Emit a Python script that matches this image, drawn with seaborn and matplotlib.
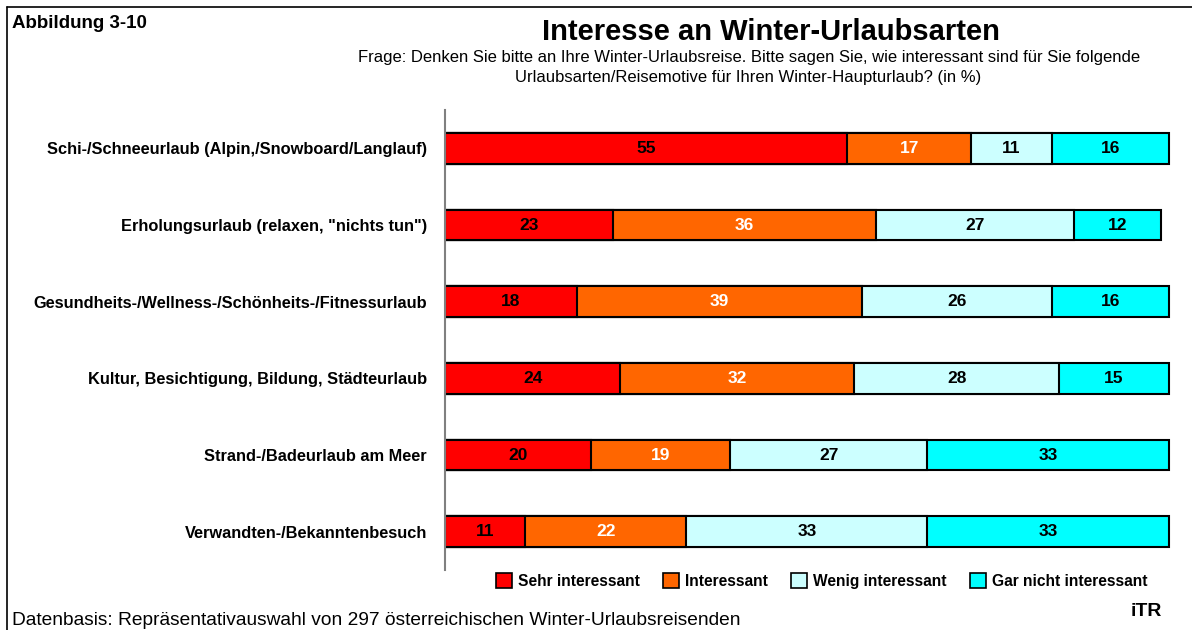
import matplotlib
matplotlib.use("Agg")
import matplotlib.pyplot as plt
from matplotlib.lines import Line2D
from matplotlib.patches import Patch
import numpy as np
import pandas as pd
import seaborn as sns

# Daten
kategorien = [
    "Schi-/Schneeurlaub (Alpin,/Snowboard/Langlauf)",
    "Erholungsurlaub (relaxen, \"nichts tun\")",
    "Gesundheits-/Wellness-/Schönheits-/Fitnessurlaub",
    "Kultur, Besichtigung, Bildung, Städteurlaub",
    "Strand-/Badeurlaub am Meer",
    "Verwandten-/Bekanntenbesuch",
]
sehr = [55, 23, 18, 24, 20, 11]
interessant = [17, 36, 39, 32, 19, 22]
wenig = [11, 27, 26, 28, 27, 33]
gar_nicht = [16, 12, 16, 15, 33, 33]

stufen = ["Sehr interessant", "Interessant", "Wenig interessant", "Gar nicht interessant"]
farben = ["#FF0000", "#FF6600", "#CCFFFF", "#00FFFF"]
textfarben = ["black", "white", "black", "black"]

sns.set_style("white")
plt.rcParams["font.family"] = ["Liberation Sans", "DejaVu Sans"]
plt.rcParams["text.color"] = "black"
plt.rcParams["ytick.color"] = "black"

werte = np.array([sehr, interessant, wenig, gar_nicht])
kum = werte.cumsum(axis=0)

fig = plt.figure(figsize=(11.92, 6.30), dpi=100)
ax = fig.add_axes([0.3733, 0.0952, 0.6133, 0.73])

# gestapelte Balken: kumulierte Summen von hinten nach vorne zeichnen
for i in range(len(stufen) - 1, -1, -1):
    df = pd.DataFrame({"Kategorie": kategorien, "Wert": kum[i]})
    sns.barplot(data=df, x="Wert", y="Kategorie", orient="h", color=farben[i],
                edgecolor="black", linewidth=1.5, width=0.4, ax=ax, saturation=1)

for i in range(len(stufen)):
    for j in range(len(kategorien)):
        ax.text(kum[i, j] - werte[i, j] / 2, j, str(werte[i, j]), ha="center", va="center",
                fontsize=12.5, fontweight="bold", color=textfarben[i])

ax.set_xlim(0, 100)
ax.set_ylim(5.5, -0.5)
ax.set_xlabel("")
ax.set_ylabel("")
ax.set_xticks([])
ax.tick_params(axis="y", length=0, pad=13)
for lab in ax.get_yticklabels():
    lab.set_fontweight("bold")
    lab.set_fontsize(11.8)
for s in ["top", "right", "bottom"]:
    ax.spines[s].set_visible(False)
ax.spines["left"].set_color("#808080")
ax.spines["left"].set_linewidth(1.5)

handles = [Patch(facecolor=c, edgecolor="black", linewidth=1.2) for c in farben]
leg = fig.legend(handles, stufen, loc="center", bbox_to_anchor=(0.6895, 0.078), ncol=4,
                 frameon=False, prop={"weight": "bold", "size": 11.2},
                 handlelength=1.0, handleheight=1.1, handletextpad=0.4, columnspacing=1.5)

fig.text(0.647, 0.950, "Interesse an Winter-Urlaubsarten", ha="center", va="center",
         fontsize=21, fontweight="bold")
fig.text(0.628, 0.893, "Frage: Denken Sie bitte an Ihre Winter-Urlaubsreise. Bitte sagen Sie, wie interessant sind für Sie folgende\n"
         "Urlaubsarten/Reisemotive für Ihren Winter-Haupturlaub? (in %)", ha="center", va="center",
         fontsize=12, linespacing=1.45)
fig.text(0.010, 0.963, "Abbildung 3-10", ha="left", va="center", fontsize=13.5, fontweight="bold")
fig.text(0.010, 0.015, "Datenbasis: Repräsentativauswahl von 297 österreichischen Winter-Urlaubsreisenden",
         ha="left", va="center", fontsize=13.8)
fig.text(0.962, 0.03, "iTR", ha="center", va="center", fontsize=14, fontweight="bold")

# Rahmen
fig.add_artist(Line2D([0.006, 0.006], [0.0, 0.989], color="black", linewidth=1.2, transform=fig.transFigure))
fig.add_artist(Line2D([0.006, 1.0], [0.989, 0.989], color="black", linewidth=1.2, transform=fig.transFigure))

fig.savefig("out.png", dpi=100)
